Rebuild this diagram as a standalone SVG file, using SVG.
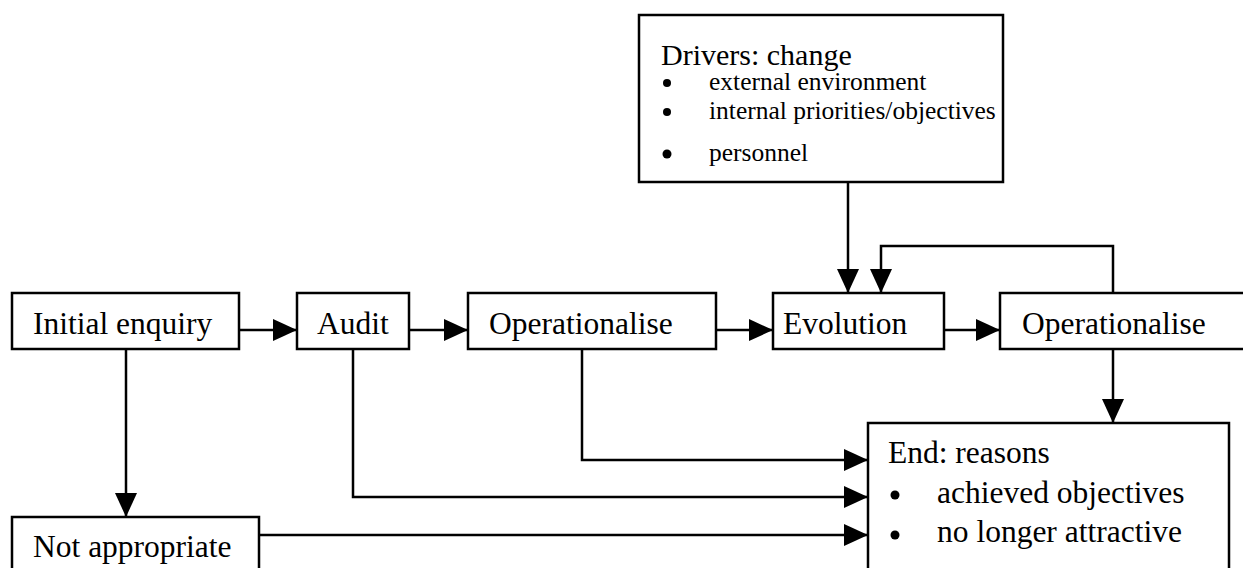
<svg xmlns="http://www.w3.org/2000/svg" width="1243" height="568" viewBox="0 0 1243 568">
<defs>
<marker id="ah" markerUnits="userSpaceOnUse" markerWidth="24" markerHeight="22" refX="24" refY="11" orient="auto">
<path d="M0,0 L24,11 L0,22 Z" fill="#000"/>
</marker>
<style>
.box{fill:#fff;stroke:#000;stroke-width:2.5}
.t{font-family:"Liberation Serif","Times New Roman",serif;font-size:31.5px;fill:#000}
.s{font-family:"Liberation Serif","Times New Roman",serif;font-size:25.5px;fill:#000}
.c{fill:none;stroke:#000;stroke-width:2.5}
</style>
</defs>
<rect width="1243" height="568" fill="#fff"/>
<g id="connectors">
<path class="c" d="M848,182 V293" marker-end="url(#ah)"/>
<path class="c" d="M1113,292 V246 H881 V293" marker-end="url(#ah)"/>
<path class="c" d="M239,330 H297" marker-end="url(#ah)"/>
<path class="c" d="M409,330 H468" marker-end="url(#ah)"/>
<path class="c" d="M716,330 H773" marker-end="url(#ah)"/>
<path class="c" d="M944,330 H1000" marker-end="url(#ah)"/>
<path class="c" d="M126,349 V517" marker-end="url(#ah)"/>
<path class="c" d="M1113,349 V423" marker-end="url(#ah)"/>
<path class="c" d="M582,349 V460 H868" marker-end="url(#ah)"/>
<path class="c" d="M353,349 V497 H868" marker-end="url(#ah)"/>
<path class="c" d="M259,535 H868" marker-end="url(#ah)"/>
</g>
<g id="drivers">
<rect class="box" x="639" y="15" width="364" height="167"/>
<text class="t" x="661" y="65" style="font-size:30px">Drivers: change</text>
<circle cx="667" cy="83" r="4"/>
<text class="s" x="709" y="90">external environment</text>
<circle cx="667" cy="112" r="4"/>
<text class="s" x="709" y="119">internal priorities/objectives</text>
<circle cx="667" cy="154" r="4.5"/>
<text class="s" x="709" y="161">personnel</text>
</g>
<g id="initial">
<rect class="box" x="12" y="293" width="227" height="56"/>
<text class="t" x="33" y="334">Initial enquiry</text>
</g>
<g id="audit">
<rect class="box" x="297" y="293" width="112" height="56"/>
<text class="t" x="317" y="334">Audit</text>
</g>
<g id="operationalise1">
<rect class="box" x="468" y="293" width="248" height="56"/>
<text class="t" x="489" y="334">Operationalise</text>
</g>
<g id="evolution">
<rect class="box" x="773" y="293" width="171" height="56"/>
<text class="t" x="783" y="334">Evolution</text>
</g>
<g id="operationalise2">
<rect class="box" x="1000" y="293" width="260" height="56"/>
<text class="t" x="1022" y="334">Operationalise</text>
</g>
<g id="notappropriate">
<rect class="box" x="12" y="517" width="247" height="60"/>
<text class="t" x="33" y="557">Not appropriate</text>
</g>
<g id="end">
<rect class="box" x="868" y="423" width="361" height="155"/>
<text class="t" x="888" y="463">End: reasons</text>
<circle cx="895" cy="495" r="4.5"/>
<text class="t" x="937" y="503">achieved objectives</text>
<circle cx="895" cy="535" r="4.5"/>
<text class="t" x="937" y="542">no longer attractive</text>
</g>
</svg>
